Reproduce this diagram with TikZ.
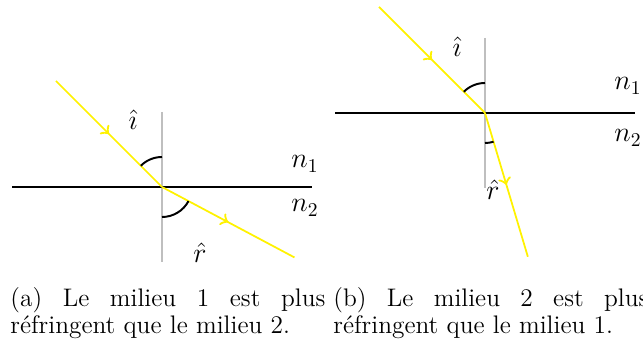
\documentclass[tikz,border=0pt]{standalone}
\usepackage{fontspec}
\usetikzlibrary{decorations.markings}
\hyphenation{réfringent}

\tikzset{
  every node/.append style={font=\fontsize{14.4}{17}\selectfont},
  interface/.style={black, line width=1pt},
  normal/.style={gray!50, line width=1pt},
  ray/.style={yellow, line width=0.9pt, postaction={decorate},
    decoration={markings, mark=at position 0.5 with {\arrow[scale=1.3]{>}}}},
  anglearc/.style={black, line width=1pt},
  legend/.style={anchor=north west, inner sep=0pt, text width=5.67cm,
    align=justify, font=\fontsize{13}{13.8}\selectfont}
}

\begin{document}
\begin{tikzpicture}[x=0.9cm, y=0.9cm]
  \useasboundingbox (0,0) rectangle (12.86,6.9);
  % (a) medium 1 denser: ray bends away from the normal
  \begin{scope}[shift={(3.24,3.16)}]
    \coordinate (Oa) at (0,0);
    \coordinate (Ta) at (0,1.5);
    \coordinate (Ba) at (0,-1.5);
    \coordinate (La) at (-3,0);
    \coordinate (Ra) at (3,0);
    \coordinate (Ia) at (135:3);
    \coordinate (Sa) at (-28:3);
    \draw[normal] (Ta) -- (Ba);
    \draw[interface] (La) -- (Ra);
    \draw[ray] (Ia) -- (Oa);
    \draw[ray] (Oa) -- (Sa);
    % angles
    \draw[anglearc] (90:0.6) arc[start angle=90, end angle=135, radius=0.6];
    \draw[anglearc] (270:0.6) arc[start angle=270, end angle=332, radius=0.6];
    \node (ia) at (-0.58,1.34) {$\hat{\imath}$};
    \node (ra) at (0.76,-1.32) {$\hat{r}$};
    \node (n1a) at (2.86,0.46) {$n_1$};
    \node (n2a) at (2.86,-0.42) {$n_2$};
  \end{scope}
  % (b) medium 2 denser: ray bends toward the normal
  \begin{scope}[shift={(9.7,4.64)}]
    \coordinate (Ob) at (0,0);
    \coordinate (Tb) at (0,1.5);
    \coordinate (Bb) at (0,-1.5);
    \coordinate (Lb) at (-3,0);
    \coordinate (Rb) at (3,0);
    \coordinate (Ib) at (135:3);
    \coordinate (Sb) at (-73.4:3);
    \draw[normal] (Tb) -- (Bb);
    \draw[interface] (Lb) -- (Rb);
    \draw[ray] (Ib) -- (Ob);
    \draw[ray] (Ob) -- (Sb);
    % angles
    \draw[anglearc] (90:0.6) arc[start angle=90, end angle=135, radius=0.6];
    \draw[anglearc] (270:0.6) arc[start angle=270, end angle=286.6, radius=0.6];
    \node (ib) at (-0.56,1.32) {$\hat{\imath}$};
    \node (rb) at (0.16,-1.54) {$\hat{r}$};
    \node (n1b) at (2.86,0.54) {$n_1$};
    \node (n2b) at (2.86,-0.5) {$n_2$};
  \end{scope}
  % captions
  \node[legend] (capa) at (0.2,1.16) {(a) Le milieu 1 est plus réfringent que le milieu 2.};
  \node[legend] (capb) at (6.66,1.16) {(b) Le milieu 2 est plus réfringent que le milieu 1.};
\end{tikzpicture}
\end{document}
